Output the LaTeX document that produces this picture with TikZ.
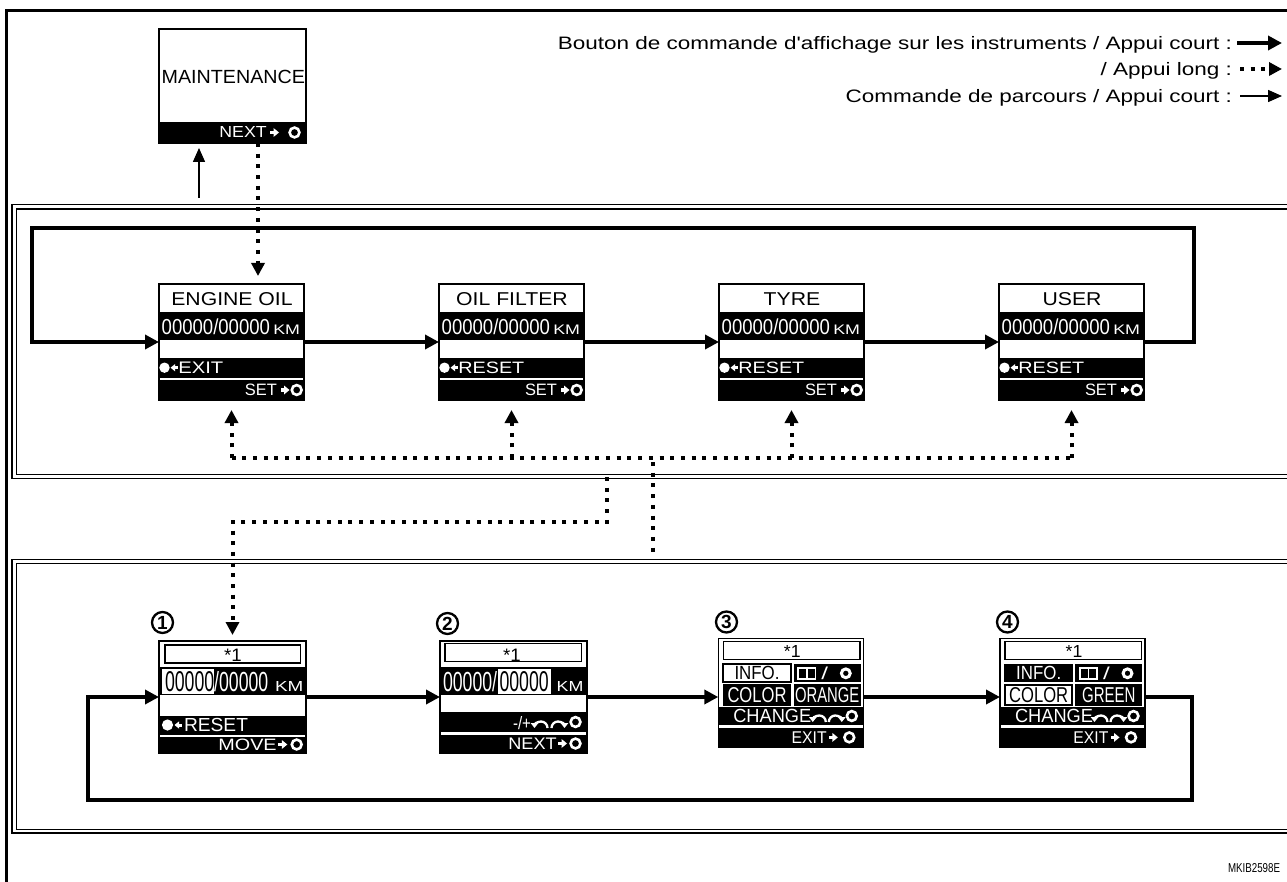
\documentclass[tikz,border=0pt]{standalone}
\usepackage{fontspec}
\setmainfont{Liberation Sans}
\usetikzlibrary{arrows.meta}
\newcommand\rb[3]{\resizebox{#1pt}{#2pt}{#3}}
\newcommand\lgt[1]{\scalebox{1.25}[1]{\fontsize{18}{18}\selectfont #1}}
\newcommand\larr[2]{\fill[white] ({#1},{#2}) -- ({#1+4.5},{#2-3.6}) -- ({#1+4.5},{#2+3.6}) -- cycle; \fill[white] ({#1+4},{#2-1.5}) rectangle ({#1+7.5},{#2+1.5});}
\newcommand\rarr[2]{\fill[white] ({#1},{#2-1.9}) rectangle ({#1+4},{#2+1.9}); \fill[white] ({#1+3.5},{#2-4.5}) -- ({#1+9},{#2}) -- ({#1+3.5},{#2+4.5}) -- cycle;}
\newcommand\ring[2]{\draw[white, line width=2.6pt] ({#1},{#2}) circle[radius=4.9];}
\newcommand\curv[3]{%
 \draw[white, line width=2.3pt, -{Triangle[length=5pt,width=7.5pt]}] ({#1+15.5},{#3}) arc[start angle=360, end angle=180, radius=6.5];
 \draw[white, line width=2.3pt, -{Triangle[length=5pt,width=7.5pt]}] ({#2-15.5},{#3}) arc[start angle=180, end angle=360, radius=6.5];}
\tikzset{
  scr/.style={draw, line width=1.5pt, inner sep=0pt, outer sep=0pt, anchor=north west},
  txt/.style={inner sep=0pt, outer sep=0pt},
  dframe/.style={line width=1.6pt},
  thickline/.style={line width=4.5pt, line join=miter},
  thickarrow/.style={thickline, -{Triangle[length=14pt,width=14pt]}},
  dotline/.style={line width=4pt, dash pattern=on 4pt off 6.7pt},
  dotarrow/.style={dotline, -{Triangle[length=13pt,width=13pt]}},
  thinarrow/.style={line width=1.5pt, -{Triangle[length=14pt,width=12pt]}},
  numc/.style={circle, draw, line width=2.3pt, minimum size=21pt, inner sep=0pt, font=\bfseries\fontsize{19}{19}\selectfont},
}
\newcommand\upbox[5]{%
 \fill ({#2},312) rectangle ({#2+145},340);
 \fill ({#2},358) rectangle ({#2+145},377.5);
 \fill ({#2},380) rectangle ({#2+145},400);
 \node[scr, minimum width=145pt, minimum height=116pt] (#1) at ({#2},284) {};
 \node[txt, anchor=base] (#1-t) at ({#2+73},305.5) {\scalebox{1.14}[1]{\fontsize{18.6}{20}\selectfont #3}};
 \node[txt, anchor=base west, text=white] (#1-d) at ({#2+2.7},334.5) {\rb{108.3}{15.7}{00000/00000}};
 \node[txt, anchor=base west, text=white] (#1-k) at ({#2+114.3},334.5) {\rb{26.7}{9.5}{KM}};
 \fill[white] ({#2+5.5},367.7) circle[radius=5.2];
 \larr{#2+11.5}{367.7}
 \node[txt, anchor=base west, text=white] (#1-l) at ({#2+19.3},373.8) {\rb{#5}{11.5}{#4}};
 \node[txt, anchor=base east, text=white] (#1-s) at ({#2+118},395.8) {\rb{32}{11.5}{SET}};
 \rarr{#2+121.5}{390}
 \ring{#2+137.7}{390}
}
\newcommand\selbox[4]{%
 \fill ({#2},706.7) rectangle ({#2+145},725);
 \fill ({#2},728.3) rectangle ({#2+145},746.5);
 \node[scr, minimum width=145pt, minimum height=108.5pt] (#1) at ({#2},638.5) {};
 \node[scr, minimum width=136.7pt, minimum height=17.6pt] (#1-h) at ({#2+5},641.7) {};
 \node[txt, anchor=base] (#1-s) at ({#2+74},657.5) {\rb{16.7}{12}{*1}};
 \ifnum#4=1
   \node[scr, fill=white, line width=2pt, minimum width=67.4pt, minimum height=17.4pt] (#1-i) at ({#2+5},664.3) {\rb{45}{13.3}{INFO.}};
   \node[scr, fill=black, text=white, minimum width=67.4pt, minimum height=20pt] (#1-c) at ({#2+5},685) {\rb{59}{15}{COLOR}};
 \else
   \node[scr, fill=black, text=white, minimum width=67.4pt, minimum height=17.4pt] (#1-i) at ({#2+5},664.3) {\rb{45}{13.3}{INFO.}};
   \node[scr, fill=white, line width=2pt, minimum width=67.4pt, minimum height=20pt] (#1-c) at ({#2+5},685) {\rb{59}{15}{COLOR}};
 \fi
 \node[scr, fill=black, minimum width=65.7pt, minimum height=17.4pt] (#1-p) at ({#2+76},664.3) {};
 \node[scr, fill=black, text=white, minimum width=65.7pt, minimum height=20pt] (#1-v) at ({#2+76},685) {#3};
 \fill[white] ({#2+79},667) rectangle ({#2+98},680);
 \fill[black] ({#2+80.8},668.8) rectangle ({#2+87.8},678.2);
 \fill[black] ({#2+89.2},668.8) rectangle ({#2+96.2},678.2);
 \node[txt, anchor=base west, text=white] (#1-sl) at ({#2+103},679.5) {\rb{6.7}{12.5}{/}};
 \draw[white, line width=3pt] ({#2+127.5},673.3) circle[radius=4.4];
 \node[txt, anchor=base west, text=white] (#1-ch) at ({#2+15},722.5) {\rb{78}{13.3}{CHANGE}};
 \curv{#2+92}{#2+126}{722}
 \ring{#2+133.5}{716}
 \node[txt, anchor=base east, text=white] (#1-ex) at ({#2+108.4},743) {\rb{35}{11.7}{EXIT}};
 \rarr{#2+110.5}{737.4}
 \ring{#2+131}{737.4}
}
\begin{document}
\begin{tikzpicture}[x=1pt,y=-1pt]
\useasboundingbox (0,0) rectangle (1287,882);
\fill[white] (0,0) rectangle (1287,882);
\clip (0,0) rectangle (1287,882);

% outer frame
\draw[line width=3pt] (6.5,882) -- (6.5,10.5) -- (1290,10.5);

% double frames
\draw[dframe] (1290,204.5) -- (12,204.5) -- (12,478.5) -- (1290,478.5);
\draw[dframe] (1290,209) -- (16.5,209) -- (16.5,474.5) -- (1290,474.5);
\draw[dframe] (1290,559.5) -- (12,559.5) -- (12,833) -- (1290,833);
\draw[dframe] (1290,563.5) -- (16.5,563.5) -- (16.5,829.5) -- (1290,829.5);

% legend
\node[txt, anchor=base east] (lg1) at (1232,49.5) {\lgt{Bouton de commande d\textquotesingle affichage sur les instruments / Appui court :}};
\node[txt, anchor=base east] (lg2) at (1232,75.5) {\lgt{/ Appui long :}};
\node[txt, anchor=base east] (lg3) at (1232,102.5) {\lgt{Commande de parcours / Appui court :}};
\coordinate (la1) at (1237,43); \coordinate (lb1) at (1282,43);
\coordinate (la2) at (1240,69); \coordinate (lb2) at (1282,69);
\coordinate (la3) at (1240,96); \coordinate (lb3) at (1282,96);
\draw[thickarrow] (la1) -- (lb1);
\draw[dotarrow] (la2) -- (lb2);
\draw[thinarrow] (la3) -- (lb3);

% maintenance
\fill (159,122) rectangle (306,143);
\node[scr, minimum width=147pt, minimum height=114pt] (mt) at (159,29) {};
\node[txt, anchor=base] (mt-t) at (233.3,83.3) {\rb{143.3}{13.3}{MAINTENANCE}};
\node[txt, anchor=base east, text=white] (mt-n) at (266.7,138) {\rb{47.3}{11}{NEXT}};
\rarr{270}{132.5}
\ring{294.5}{132.5}

% upper boxes
\upbox{eo}{159}{ENGINE OIL}{EXIT}{45}
\upbox{of}{439}{OIL FILTER}{RESET}{66}
\upbox{ty}{719}{TYRE}{RESET}{66}
\upbox{us}{999}{USER}{RESET}{66}

\draw[thickarrow] (eo.east) -- (of.west);
\draw[thickarrow] (of.east) -- (ty.west);
\draw[thickarrow] (ty.east) -- (us.west);
\coordinate (ur) at (1194,228); \coordinate (ul) at (32,228);
\draw[thickarrow] (us.east) -| (ur) -- (ul) |- (eo.west);

\coordinate (m1) at (258,143);
\draw[dotarrow, shorten >=8pt] (m1) -- (m1 |- eo.north);
\coordinate (t1) at (199,198);
\draw[thinarrow, shorten >=5pt] (t1) -- (t1 |- mt.south);

\coordinate (dl) at (0,458);
\draw[dotline] (eo.south |- dl) -- (us.south |- dl);
\foreach \b in {eo,of,ty,us} \draw[dotarrow, shorten >=10pt] (\b.south |- dl) -- (\b.south);

% lower box 1
\fill (159,667) rectangle (306,695);
\fill[white] (161.5,668.5) rectangle (213.5,693.5);
\fill (159,716) rectangle (306,734.5);
\fill (159,736.5) rectangle (306,752.5);
\node[scr, minimum width=147pt, minimum height=112pt] (b1) at (159,641) {};
\node[scr, minimum width=135.5pt, minimum height=18pt] (b1-h) at (165,645) {};
\node[txt, anchor=base] (b1-s) at (233,661.5) {\rb{17.7}{12.4}{*1}};
\node[txt, anchor=base west] (b1-d1) at (165,691.5) {\rb{49.2}{20}{00000}};
\node[txt, anchor=base west, text=white] (b1-d2) at (214.2,691.5) {\rb{54.1}{20}{/00000}};
\node[txt, anchor=base west, text=white] (b1-k) at (275,691.5) {\rb{28.3}{10}{KM}};
\fill[white] (167.5,725) circle[radius=5.6];
\larr{174.5}{725}
\node[txt, anchor=base west, text=white] (b1-r) at (184,731.5) {\rb{64}{13.2}{RESET}};
\node[txt, anchor=base east, text=white] (b1-m) at (276.7,750) {\rb{58.3}{11.5}{MOVE}};
\rarr{278.3}{744.5}
\ring{296.7}{744.5}

% lower box 2
\fill (440,667) rectangle (587,695);
\fill[white] (498,669) rectangle (551,693.5);
\fill (440,712) rectangle (587,732);
\fill (440,735) rectangle (587,752.5);
\node[scr, minimum width=147pt, minimum height=112pt] (b2) at (440,641) {};
\node[scr, minimum width=136.7pt, minimum height=18.4pt] (b2-h) at (445,643.3) {};
\node[txt, anchor=base] (b2-s) at (512,661.5) {\rb{17.7}{12.4}{*1}};
\node[txt, anchor=base west, text=white] (b2-d1) at (443,691.5) {\rb{54.1}{20}{00000/}};
\node[txt, anchor=base west] (b2-d2) at (499.5,691.5) {\rb{49.2}{20}{00000}};
\node[txt, anchor=base west, text=white] (b2-k) at (556.7,691.5) {\rb{26.7}{10}{KM}};
\node[txt, anchor=base east, text=white] (b2-pm) at (531,729) {\rb{18}{13}{-/+}};
\curv{532}{567}{728}
\ring{575.5}{722}
\node[txt, anchor=base east, text=white] (b2-n) at (556.7,749.5) {\rb{48.3}{11.5}{NEXT}};
\rarr{558}{743.5}
\ring{575.5}{743.5}

% lower boxes 3, 4
\selbox{b3}{718.3}{\rb{64.3}{15}{ORANGE}}{1}
\selbox{b4}{1000}{\rb{53.3}{15}{GREEN}}{2}

% circled numbers
\node[numc] (n1) at (162.5,622.5) {1};
\node[numc] (n2) at (447.5,623.5) {2};
\node[numc] (n3) at (726.5,622) {3};
\node[numc] (n4) at (1007.5,622) {4};

% lower arrows
\draw[thickarrow] (b1.east) -- (b2.west);
\draw[thickarrow] (b2.east) -- (b2.east -| b3.west);
\draw[thickarrow] (b3.east |- b2.east) -- (b2.east -| b4.west);
\coordinate (lr) at (1192,800); \coordinate (ll) at (88,800);
\draw[thickarrow] (b4.east |- b1.east) -| (lr) -- (ll) |- (b1.west);

% dotted links between frames
\coordinate (d1) at (607,477); \coordinate (d2) at (232.5,522);
\draw[dotarrow, shorten >=6pt] (d1) |- (d2) -- (d2 |- b1.north);
\coordinate (d3) at (653,462); \coordinate (d4) at (653,552);
\draw[dotline] (d3) -- (d4);

% reference code
\node[txt, anchor=base east] (id) at (1280,872) {\rb{52}{9}{MKIB2598E}};
\end{tikzpicture}
\end{document}
